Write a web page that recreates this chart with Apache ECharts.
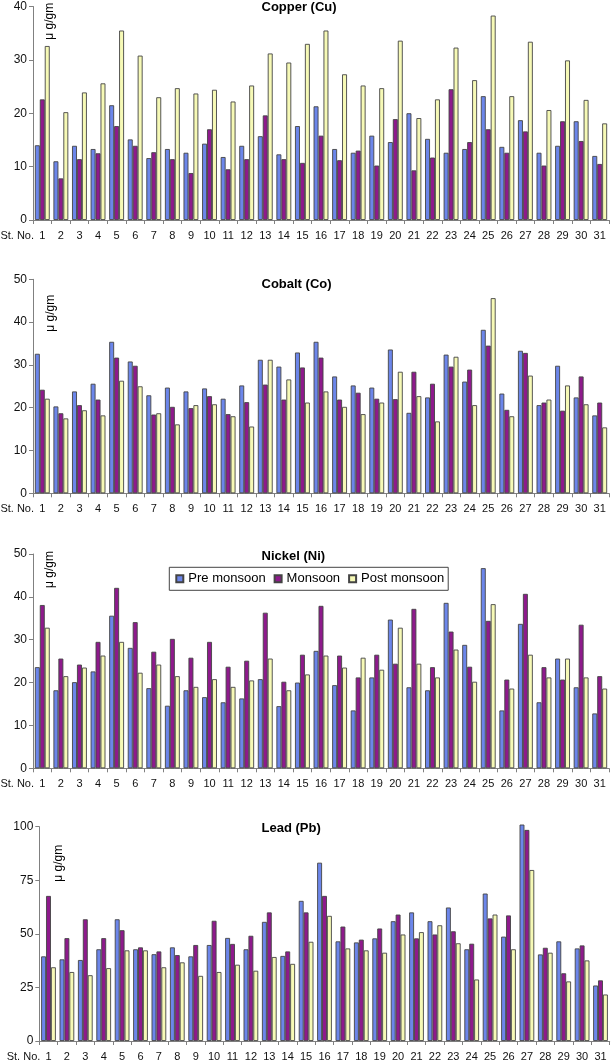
<!DOCTYPE html>
<html>
<head>
<meta charset="utf-8">
<script src="https://cdn.jsdelivr.net/npm/echarts@6/dist/echarts.min.js"></script>
<style>
html,body{margin:0;padding:0;background:#fff;}
#chart{width:611px;height:1063px;}
</style>
</head>
<body>
<div id="chart"></div>
<script>
const stations = ['1','2','3','4','5','6','7','8','9','10','11','12','13','14','15','16','17','18','19','20','21','22','23','24','25','26','27','28','29','30','31'];
const seriesNames = ['Pre monsoon','Monsoon','Post monsoon'];
const panelTitles = ['Copper (Cu)','Cobalt (Co)','Nickel (Ni)','Lead (Pb)'];
const unitLabel = 'μ g/gm';
const xAxisName = 'St. No.';

const cuPre  = [14.0,11.0,13.9,13.3,21.5,15.1,11.6,13.3,12.6,14.3,11.8,13.9,15.7,12.3,17.6,21.3,13.3,12.6,15.8,14.6,20.0,15.2,12.6,13.3,23.2,13.7,18.7,12.6,13.9,18.5,12.0];
const cuMon  = [22.6,7.8,11.4,12.5,17.6,13.9,12.7,11.4,8.8,17.0,9.5,11.4,19.6,11.4,10.7,15.8,11.2,13.0,10.2,18.9,9.3,11.7,24.5,14.6,17.0,12.6,16.6,10.2,18.5,14.8,10.5];
const cuPost = [32.6,20.2,23.9,25.6,35.5,30.8,23.0,24.7,23.7,24.4,22.2,25.2,31.2,29.5,33.0,35.5,27.3,25.2,24.7,33.6,19.1,22.6,32.3,26.2,38.3,23.2,33.4,20.6,29.9,22.5,18.1];

const coPre  = [32.6,20.3,23.8,25.6,35.4,30.8,22.9,24.7,23.8,24.5,22.1,25.2,31.2,29.6,32.9,35.4,27.3,25.2,24.7,33.6,18.8,22.4,32.4,26.1,38.2,23.3,33.3,20.6,29.8,22.4,18.2];
const coMon  = [24.2,18.7,20.6,21.9,31.7,29.8,18.4,20.2,19.9,22.7,18.5,21.3,25.4,21.9,29.4,31.7,21.9,23.5,22.1,22.0,28.4,25.6,29.6,28.9,34.5,19.5,32.8,21.2,19.3,27.3,21.2];
const coPost = [22.1,17.5,19.4,18.2,26.3,25.0,18.7,16.1,20.6,20.8,18.0,15.6,31.2,26.6,21.2,23.8,20.2,18.5,21.2,28.4,22.7,16.8,31.9,20.6,45.6,18.0,27.5,21.9,25.2,20.8,15.4];

const niPre  = [23.6,18.2,20.1,22.6,35.6,28.1,18.7,14.6,18.2,16.6,15.4,16.3,20.8,14.5,20.0,27.4,19.4,13.5,21.2,34.7,18.9,18.2,38.6,28.8,46.7,13.5,33.7,15.4,25.6,18.9,12.8];
const niMon  = [38.1,25.6,24.2,29.5,42.1,34.1,27.2,30.2,25.8,29.5,23.7,25.1,36.3,20.2,26.5,37.9,26.3,21.2,26.5,24.4,37.2,23.6,31.9,23.7,34.4,20.7,40.7,23.6,20.7,33.5,21.5];
const niPost = [32.8,21.5,23.5,26.3,29.5,22.3,24.2,21.5,19.0,20.8,19.0,20.5,25.6,18.2,21.9,26.3,23.5,25.8,23.0,32.8,24.4,21.2,27.7,20.2,38.3,18.6,26.5,21.2,25.6,21.2,18.6];

const pbPre  = [39.5,38.1,37.8,42.8,56.8,42.8,40.5,43.7,39.5,44.8,48.1,42.8,55.6,39.7,65.4,83.2,46.5,46.0,47.9,55.9,60.0,55.9,62.3,42.8,68.8,48.7,101,40.4,46.5,43.2,25.9];
const pbMon  = [67.7,48.0,56.8,48.0,51.7,43.7,41.8,40.1,44.8,56.1,45.3,49.1,60.0,41.8,60.0,67.7,53.4,47.3,52.5,59.0,47.9,49.7,51.2,45.4,57.2,58.6,98.5,43.5,31.6,44.6,28.3];
const pbPost = [34.4,32.2,30.7,34.0,42.3,42.3,34.4,36.7,30.4,32.2,35.6,32.8,39.2,36.0,46.3,58.4,43.2,42.3,41.2,49.7,50.8,54.0,45.6,28.7,59.0,42.8,79.8,41.2,27.8,37.6,21.7];

const yMax = [40,50,50,100];
const yInterval = [10,10,10,25];
const panelData = [[cuPre,cuMon,cuPost],[coPre,coMon,coPost],[niPre,niMon,niPost],[pbPre,pbMon,pbPost]];

const FONT = 'Liberation Sans, Arial, sans-serif';
const colors = ['#6c86ea','#8e1a8c','#f6f9b6'];
const grids = [
  {left:33, right:2, top:6.5, height:213.5},
  {left:33, right:2, top:279.3, height:214},
  {left:33, right:2, top:554, height:214.3},
  {left:39.3, right:1.3, top:826.7, height:214.3}
];
const titleTops = [0.5, 278, 549.5, 822];
const unitPos = [[50,21.3],[51,313.3],[49.7,569.5],[58.5,863.3]];

const chart = echarts.init(document.getElementById('chart'), null, {renderer:'canvas'});

const option = {
  animation:false,
  backgroundColor:'#fff',
  color: colors,
  title: panelTitles.map((t,i)=>({
    text:t, left:261.5, top:titleTops[i], padding:0,
    textStyle:{fontFamily:FONT, fontSize:13, fontWeight:'bold', color:'#000'}
  })),
  legend:{
    data: seriesNames,
    left:169.3, top:567.3,
    orient:'horizontal',
    padding:[5,4,5,6],
    itemWidth:7, itemHeight:7, itemGap:8,
    borderColor:'#444', borderWidth:1, backgroundColor:'#fff',
    icon:'rect',
    textStyle:{fontFamily:FONT, fontSize:13, color:'#000', padding:[1,0,0,0]},
    selectedMode:false
  },
  grid: grids.map(g=>Object.assign({containLabel:false}, g)),
  xAxis: grids.map((g,i)=>({
    type:'category', gridIndex:i, data:stations,
    axisLine:{lineStyle:{color:'#808080', width:1}},
    axisTick:{show:true, length:4, lineStyle:{color:'#808080'}},
    axisLabel:{fontFamily:FONT, fontSize:11, color:'#111', margin:10, interval:0}
  })),
  yAxis: grids.map((g,i)=>({
    type:'value', gridIndex:i, min:0, max:yMax[i], interval:yInterval[i],
    splitLine:{show:false},
    axisLine:{show:true, lineStyle:{color:'#808080', width:1}},
    axisTick:{show:true, length:4, lineStyle:{color:'#808080'}},
    axisLabel:{fontFamily:FONT, fontSize:12, color:'#111', margin:6}
  })),
  series: [],
  graphic: []
};

panelData.forEach((arrs,i)=>{
  arrs.forEach((arr,j)=>{
    option.series.push({
      type:'bar', name:seriesNames[j], xAxisIndex:i, yAxisIndex:i,
      data:arr, clip:false,
      barGap:'0%', barCategoryGap:'20%',
      itemStyle:{color:colors[j], borderColor:'#444', borderWidth:0.9},
      emphasis:{disabled:true}
    });
  });
  const g = grids[i];
  const axisBottom = g.top + g.height;
  option.graphic.push({
    type:'text', x: g.left + 1, y: axisBottom + 10.5,
    style:{text:xAxisName, fontFamily:FONT, fontSize:11, fill:'#111', textAlign:'right', textVerticalAlign:'top'}
  });
  option.graphic.push({
    type:'text', x: unitPos[i][0], y: unitPos[i][1], rotation: Math.PI/2,
    style:{text:unitLabel, fontFamily:FONT, fontSize:12, fill:'#000', textAlign:'center', textVerticalAlign:'middle'}
  });
});

chart.setOption(option);
</script>
</body>
</html>
